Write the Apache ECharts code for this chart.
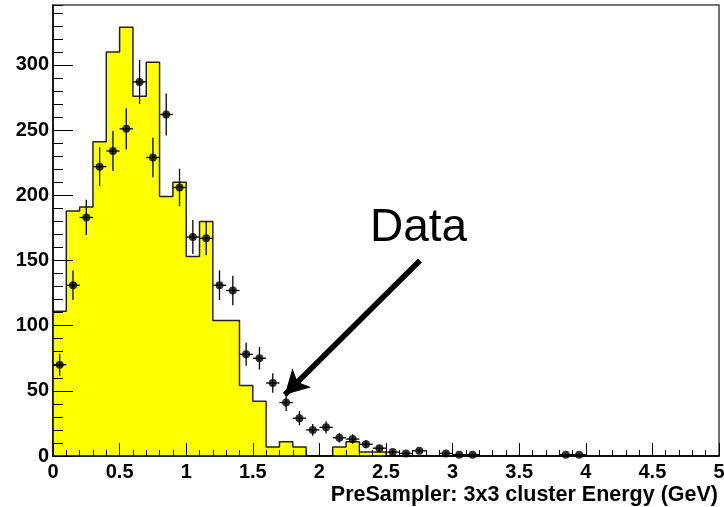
<!DOCTYPE html>
<html>
<head>
<meta charset="utf-8">
<title>PreSampler 3x3 cluster energy</title>
<script src="https://cdn.jsdelivr.net/npm/echarts@6/dist/echarts.min.js"></script>
<style>
html, body { margin: 0; padding: 0; background: #fff; }
#main { width: 724px; height: 507px; }
</style>
</head>
<body>
<div id="main"></div>
<script type="text/javascript">
// histogram (MC), 50 bins of 0.1 GeV from 0 to 5
var binWidth = 0.1;
var histValues = [111, 188, 191, 241, 310, 329, 276, 302, 199, 210,
                  153, 180, 104, 104, 54, 42, 7, 11, 7, 0,
                  0, 7, 11, 3, 3, 0, 0, 0, 0, 0,
                  0, 0, 0, 0, 0, 0, 0, 0, 0, 0,
                  0, 0, 0, 0, 0, 0, 0, 0, 0, 0];
// data points at bin centres (null = no point)
var dataValues = [70, 131, 183, 222, 234, 251, 287, 229, 262, 206,
                  168, 167, 131, 127, 78, 75, 56, 41, 29, 20,
                  22, 14, 13, 9, 6, 3, 2, 4, null, 2,
                  1, 1, null, null, null, null, null, null, 1, 1,
                  null, null, null, null, null, null, null, null, null, null];
var dataErrors = [8.4, 11.4, 13.5, 14.9, 15.3, 15.8, 16.9, 15.1, 16.2, 14.4,
                  13.0, 12.9, 11.4, 11.3, 8.8, 8.7, 7.5, 6.4, 5.4, 4.5,
                  4.7, 3.7, 3.6, 3.0, 2.4, 1.7, 1.4, 2.0, 0, 1.4,
                  1.0, 1.0, 0, 0, 0, 0, 0, 0, 1.0, 1.0,
                  0, 0, 0, 0, 0, 0, 0, 0, 0, 0];
var xTicks = { min: 0, max: 5, step: 0.5 };
var yTicks = { min: 0, max: 346, step: 50, minorStep: 10 };
var arrowFrom = [2.755, 150];
var arrowTo = [1.74, 47];
var labelText = 'Data';
var xTitle = 'PreSampler: 3x3 cluster Energy (GeV)';

var histLine = histValues.map(function (v, i) { return [+(i * binWidth).toFixed(2), v]; });
histLine.push([xTicks.max, histValues[histValues.length - 1]]);

var points = [];
dataValues.forEach(function (v, i) {
  if (v !== null) points.push([+((i + 0.5) * binWidth).toFixed(2), v, dataErrors[i]]);
});

var font = 'Liberation Sans, Arial, Helvetica, sans-serif';
var chart = echarts.init(document.getElementById('main'));

var option = {
  animation: false,
  backgroundColor: '#ffffff',
  grid: { left: 53, right: 5, top: 5, bottom: 51, containLabel: false, outerBoundsMode: 'none',
          show: true, borderColor: '#444', borderWidth: 1.5, backgroundColor: 'transparent' },
  xAxis: {
    type: 'value', min: xTicks.min, max: xTicks.max, interval: xTicks.step, z: 10,
    axisLine: { lineStyle: { color: '#000', width: 1.5 } },
    axisTick: { inside: true, length: 13, lineStyle: { color: '#000', width: 1 } },
    minorTick: { show: true, splitNumber: 5, length: 6, lineStyle: { color: '#000', width: 1 } },
    axisLabel: { fontFamily: font, fontSize: 20, fontWeight: 'bold', color: '#000', margin: 6 },
    splitLine: { show: false }
  },
  yAxis: [{
    type: 'value', min: yTicks.min, max: yTicks.max, interval: yTicks.step, z: 10,
    axisLine: { show: true, lineStyle: { color: '#000', width: 1.5 } },
    axisTick: { show: true, inside: true, length: 20, lineStyle: { color: '#000', width: 1 } },
    axisLabel: { fontFamily: font, fontSize: 20, fontWeight: 'bold', color: '#000', margin: 4, showMaxLabel: false },
    splitLine: { show: false }
  }, {
    type: 'value', position: 'left', min: yTicks.min, max: yTicks.max, interval: yTicks.minorStep, z: 10,
    axisLine: { show: false },
    axisTick: { show: true, inside: true, length: 10, lineStyle: { color: '#000', width: 1 } },
    axisLabel: { show: false },
    splitLine: { show: false }
  }],
  graphic: [{
    type: 'text', left: 370, top: 205, z: 20,
    style: { text: labelText, fontFamily: font, fontSize: 46, fill: '#000' }
  }, {
    type: 'text', right: 6, top: 484, z: 20,
    style: { text: xTitle, fontFamily: font, fontSize: 21.5, fontWeight: 'bold', fill: '#000' }
  }],
  series: [{
    name: 'MC', type: 'line', step: 'end', data: histLine, symbol: 'none', z: 2,
    lineStyle: { color: '#222', width: 1.5 },
    areaStyle: { color: '#ffff00', opacity: 1 }
  }, {
    name: 'errors', type: 'custom', data: points, z: 4, clip: true,
    renderItem: function (params, api) {
      var x = api.value(0), y = api.value(1), e = api.value(2);
      var top = api.coord([x, y + e]), bot = api.coord([x, Math.max(y - e, 0)]);
      var l = api.coord([x - binWidth / 2, y]), r = api.coord([x + binWidth / 2, y]);
      var st = { stroke: '#000', lineWidth: 1.3 };
      return { type: 'group', children: [
        { type: 'line', shape: { x1: top[0], y1: top[1], x2: bot[0], y2: bot[1] }, style: st },
        { type: 'line', shape: { x1: l[0], y1: l[1], x2: r[0], y2: r[1] }, style: st }
      ] };
    }
  }, {
    name: 'Data', type: 'scatter', data: points, symbol: 'circle', symbolSize: 8, z: 5,
    itemStyle: { color: '#000' },
    markLine: {
      silent: true, symbol: ['none', 'arrow'], symbolSize: [20, 24],
      label: { show: false },
      lineStyle: { color: '#000', width: 5.5, type: 'solid' },
      data: [[{ coord: arrowFrom }, { coord: arrowTo }]]
    }
  }]
};
chart.setOption(option);
</script>
</body>
</html>
